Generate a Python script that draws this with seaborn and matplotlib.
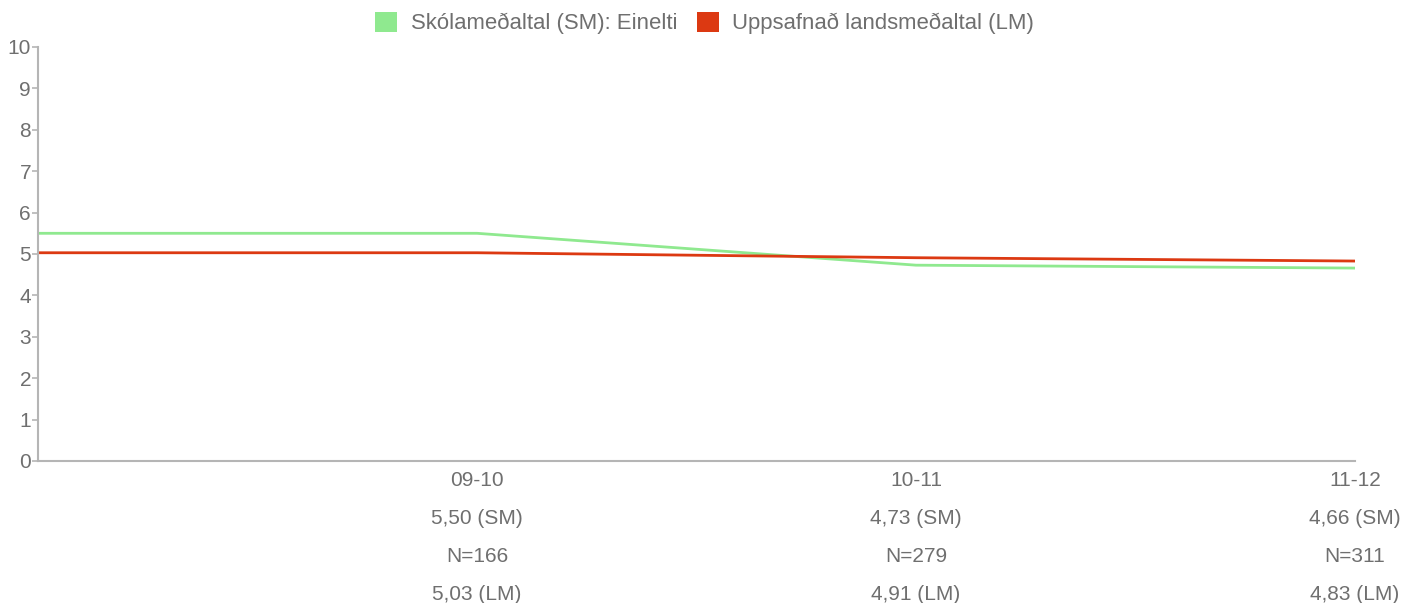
import numpy as np
import pandas as pd
import matplotlib
matplotlib.use("Agg")
import matplotlib.pyplot as plt
from matplotlib.patches import Patch
import seaborn as sns

seasons = ["09-10", "10-11", "11-12"]
school_mean = [5.50, 4.73, 4.66]
national_mean = [5.03, 4.91, 4.83]
n_counts = [166, 279, 311]

series_sm = "Skólameðaltal (SM): Einelti"
series_lm = "Uppsafnað landsmeðaltal (LM)"
green = "#8fe98f"
red = "#dc3912"
grey_text = "#6f6f6f"
axis_grey = "#b5b5b5"

sns.set_theme(style="white")
plt.rcParams["font.family"] = ["Liberation Sans", "DejaVu Sans"]

# Each line starts at the left axis edge carrying the first season's value
pos = np.arange(len(seasons)) + 1
xs = np.concatenate([[0], pos])
df = pd.concat([
    pd.DataFrame({"x": xs, "y": [school_mean[0]] + school_mean, "series": series_sm}),
    pd.DataFrame({"x": xs, "y": [national_mean[0]] + national_mean, "series": series_lm}),
])

fig = plt.figure(figsize=(14.18, 6.03), dpi=100)
ax = fig.add_axes([38 / 1418, 1 - 461 / 603, (1355 - 38) / 1418, (461 - 47) / 603])

sns.lineplot(data=df, x="x", y="y", hue="series",
             palette={series_sm: green, series_lm: red},
             linewidth=2.0, ax=ax, legend=False, sort=False)

ax.set_xlim(0, len(seasons))
ax.set_ylim(0, 10)
ax.set_yticks(range(0, 11))
ax.set_xticks(pos)
labels = [f"{s}\n{sm:.2f} (SM)\nN={n}\n{lm:.2f} (LM)".replace(".", ",")
          for s, sm, n, lm in zip(seasons, school_mean, n_counts, national_mean)]
ax.set_xticklabels(labels, linespacing=2.25)
ax.set_xlabel("")
ax.set_ylabel("")

for side in ("top", "right"):
    ax.spines[side].set_visible(False)
for side in ("left", "bottom"):
    ax.spines[side].set_color(axis_grey)
    ax.spines[side].set_linewidth(1.5)

ax.tick_params(axis="y", which="both", left=True, length=4, width=1.2,
               color=axis_grey, labelcolor=grey_text, labelsize=15, pad=1)
ax.tick_params(axis="x", which="both", bottom=False, labelcolor=grey_text,
               labelsize=15, pad=1.5)

handles = [Patch(facecolor=green, edgecolor="none", label=series_sm),
           Patch(facecolor=red, edgecolor="none", label=series_lm)]
fig.legend(handles=handles, loc="center", bbox_to_anchor=(0.497, 1 - 23 / 603),
           ncol=2, frameon=False, fontsize=15.9, labelcolor=grey_text,
           handlelength=1.0, handleheight=1.0, handletextpad=0.6, columnspacing=0.9)

fig.savefig("out.png", dpi=100)
